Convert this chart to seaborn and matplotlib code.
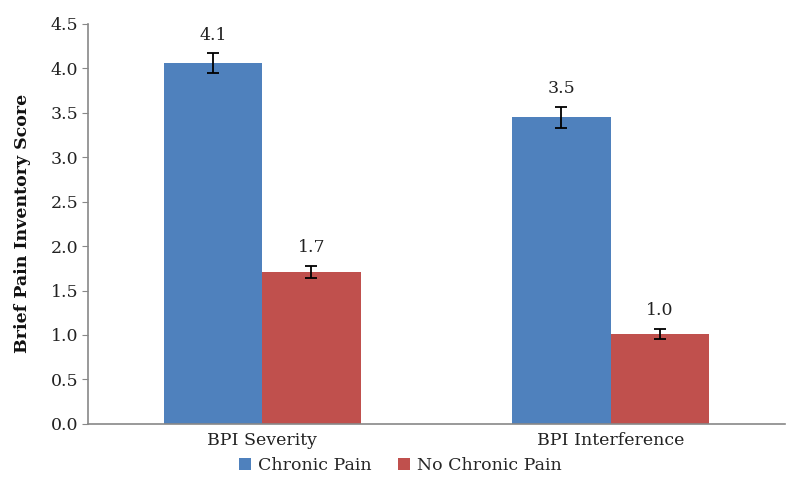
import matplotlib
matplotlib.use("Agg")
import matplotlib.pyplot as plt
import pandas as pd
import seaborn as sns

# datos
categorias = ["BPI Severity", "BPI Interference"]
grupos = ["Chronic Pain", "No Chronic Pain"]
chronic_pain = [4.06, 3.45]
no_chronic_pain = [1.71, 1.01]
err_chronic = [0.11, 0.12]
err_no_chronic = [0.07, 0.06]
etiquetas_chronic = ["4.1", "3.5"]
etiquetas_no_chronic = ["1.7", "1.0"]
y_ticks = [0.0, 0.5, 1.0, 1.5, 2.0, 2.5, 3.0, 3.5, 4.0, 4.5]

colores = ["#4F81BD", "#C0504D"]

df = pd.DataFrame({
    "categoria": categorias * 2,
    "grupo": [grupos[0]] * 2 + [grupos[1]] * 2,
    "valor": chronic_pain + no_chronic_pain,
    "err": err_chronic + err_no_chronic,
    "etiqueta": etiquetas_chronic + etiquetas_no_chronic,
})

sns.set_style("white")
plt.rcParams["font.family"] = ["DejaVu Serif"]

fig = plt.figure(figsize=(8, 4.98), dpi=100)
ax = fig.add_axes([0.11, 0.149, 0.871, 0.803])

sns.barplot(data=df, x="categoria", y="valor", hue="grupo", hue_order=grupos,
            order=categorias, palette=colores, width=0.565, errorbar=None,
            saturation=1, linewidth=0, ax=ax)

# barras de error y etiquetas a partir de las barras que dibujó seaborn
for cont, g in zip(ax.containers, grupos):
    sub = df[df["grupo"] == g].set_index("categoria").loc[categorias]
    xs = [p.get_x() + p.get_width() / 2 for p in cont.patches]
    ax.errorbar(xs, sub["valor"], yerr=sub["err"], fmt="none", ecolor="black",
                elinewidth=1.3, capsize=4, capthick=1.3)
    for x, v, e, lab in zip(xs, sub["valor"], sub["err"], sub["etiqueta"]):
        ax.annotate(lab, (x, v + e), xytext=(0, 7), textcoords="offset points",
                    ha="center", va="bottom", fontsize=12.5, color="#222222")

ax.set_ylim(0, 4.5)
ax.set_yticks(y_ticks)
ax.set_yticklabels([f"{t:.1f}" for t in y_ticks], fontsize=12.5, color="#222222")
ax.set_xlim(-0.5, 1.5)
ax.set_xticks([0, 1])
ax.set_xticklabels(categorias, fontsize=12.5, color="#222222")
ax.set_xticks([-0.5, 0.5, 1.5], minor=True)
ax.tick_params(axis="x", which="major", length=0, pad=6)
ax.tick_params(axis="x", which="minor", length=5, color="#888888", direction="out")
ax.tick_params(axis="y", length=4, color="#888888", direction="out", left=True, pad=3)

ax.set_xlabel("")
ax.set_ylabel("Brief Pain Inventory Score", fontsize=12.5, fontweight="bold",
              labelpad=14, color="#111111")

for s in ["top", "right"]:
    ax.spines[s].set_visible(False)
for s in ["left", "bottom"]:
    ax.spines[s].set_color("#888888")
    ax.spines[s].set_linewidth(1.2)

ax.legend(loc="upper center", bbox_to_anchor=(0.448, -0.045), ncol=2, frameon=False,
          fontsize=12.5, handlelength=0.7, handleheight=0.7, handletextpad=0.4,
          columnspacing=1.5)

fig.savefig("out.png", dpi=100)
